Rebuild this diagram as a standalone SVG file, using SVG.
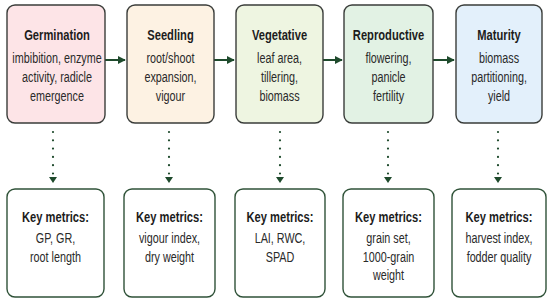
<svg xmlns="http://www.w3.org/2000/svg" width="550" height="304" viewBox="0 0 550 304">
<style>
.stage{stroke:#3a3d3a;stroke-width:1.4}
.metric{fill:#ffffff;stroke:#2f5238;stroke-width:1.4}
text{font-family:"Liberation Sans",Arial,sans-serif;fill:#1c1c1c;text-anchor:middle}
.t{font-size:15.5px;font-weight:bold}
.b{font-size:15px;fill:#2a2a2a}
.arrow{stroke:#1e4a2c;stroke-width:2;fill:none}
.dot{stroke:#1e4a2c;stroke-width:2.2;stroke-linecap:round;stroke-dasharray:0 8.3;fill:none}
.head{fill:#1e4a2c}
</style>
<defs>
<marker id="ah" viewBox="0 0 10 10" refX="9" refY="5" markerWidth="4" markerHeight="5" markerUnits="strokeWidth" orient="auto">
<path d="M0,0 L10,5 L0,10 z" class="head"/>
</marker>
</defs>
<rect width="550" height="304" fill="#ffffff"/>
<g id="connectors">
<line class="arrow" x1="105" y1="60" x2="125" y2="60" marker-end="url(#ah)"/>
<line class="arrow" x1="214" y1="60" x2="234" y2="60" marker-end="url(#ah)"/>
<line class="arrow" x1="323" y1="60" x2="342" y2="60" marker-end="url(#ah)"/>
<line class="arrow" x1="433" y1="60" x2="454" y2="60" marker-end="url(#ah)"/>
<line class="dot" x1="53" y1="132" x2="53" y2="175"/>
<path class="head" d="M49,177 L57,177 L53,183 z"/>
<line class="dot" x1="169" y1="132" x2="169" y2="175"/>
<path class="head" d="M165,177 L173,177 L169,183 z"/>
<line class="dot" x1="280" y1="132" x2="280" y2="175"/>
<path class="head" d="M276,177 L284,177 L280,183 z"/>
<line class="dot" x1="388" y1="132" x2="388" y2="175"/>
<path class="head" d="M384,177 L392,177 L388,183 z"/>
<line class="dot" x1="498" y1="132" x2="498" y2="175"/>
<path class="head" d="M494,177 L502,177 L498,183 z"/>
</g>
<g id="germination">
<rect class="stage" x="7" y="5" width="98" height="118" rx="8" fill="#fde4e7"/>
<g transform="translate(57,0) scale(0.72,1)">
<text class="t" x="0" y="40">Germination</text>
<text class="b" x="0" y="63">imbibition, enzyme</text>
<text class="b" x="0" y="82">activity, radicle</text>
<text class="b" x="0" y="101">emergence</text>
</g>
</g>
<g id="seedling">
<rect class="stage" x="127" y="5" width="87" height="118" rx="8" fill="#fdf2e3"/>
<g transform="translate(170.5,0) scale(0.72,1)">
<text class="t" x="0" y="40">Seedling</text>
<text class="b" x="0" y="63">root/shoot</text>
<text class="b" x="0" y="82">expansion,</text>
<text class="b" x="0" y="101">vigour</text>
</g>
</g>
<g id="vegetative">
<rect class="stage" x="236" y="5" width="87" height="118" rx="8" fill="#eef5e1"/>
<g transform="translate(279.5,0) scale(0.72,1)">
<text class="t" x="0" y="40">Vegetative</text>
<text class="b" x="0" y="63">leaf area,</text>
<text class="b" x="0" y="82">tillering,</text>
<text class="b" x="0" y="101">biomass</text>
</g>
</g>
<g id="reproductive">
<rect class="stage" x="344" y="5" width="89" height="118" rx="8" fill="#e2f2e4"/>
<g transform="translate(388.5,0) scale(0.72,1)">
<text class="t" x="0" y="40">Reproductive</text>
<text class="b" x="0" y="63">flowering,</text>
<text class="b" x="0" y="82">panicle</text>
<text class="b" x="0" y="101">fertility</text>
</g>
</g>
<g id="maturity">
<rect class="stage" x="456" y="5" width="86" height="118" rx="8" fill="#e3f0fb"/>
<g transform="translate(499,0) scale(0.72,1)">
<text class="t" x="0" y="40">Maturity</text>
<text class="b" x="0" y="63">biomass</text>
<text class="b" x="0" y="82">partitioning,</text>
<text class="b" x="0" y="101">yield</text>
</g>
</g>
<g id="metrics-germination">
<rect class="metric" x="7" y="189" width="97" height="108" rx="8"/>
<g transform="translate(55.5,0) scale(0.72,1)">
<text class="t" x="0" y="222">Key metrics:</text>
<text class="b" x="0" y="243">GP, GR,</text>
<text class="b" x="0" y="262">root length</text>
</g>
</g>
<g id="metrics-seedling">
<rect class="metric" x="124" y="189" width="91" height="108" rx="8"/>
<g transform="translate(169.5,0) scale(0.72,1)">
<text class="t" x="0" y="222">Key metrics:</text>
<text class="b" x="0" y="243">vigour index,</text>
<text class="b" x="0" y="262">dry weight</text>
</g>
</g>
<g id="metrics-vegetative">
<rect class="metric" x="235" y="189" width="90" height="108" rx="8"/>
<g transform="translate(280,0) scale(0.72,1)">
<text class="t" x="0" y="222">Key metrics:</text>
<text class="b" x="0" y="243">LAI, RWC,</text>
<text class="b" x="0" y="262">SPAD</text>
</g>
</g>
<g id="metrics-reproductive">
<rect class="metric" x="343" y="189" width="91" height="108" rx="8"/>
<g transform="translate(388.5,0) scale(0.72,1)">
<text class="t" x="0" y="222">Key metrics:</text>
<text class="b" x="0" y="243">grain set,</text>
<text class="b" x="0" y="262">1000-grain</text>
<text class="b" x="0" y="280">weight</text>
</g>
</g>
<g id="metrics-maturity">
<rect class="metric" x="452" y="189" width="94" height="108" rx="8"/>
<g transform="translate(499,0) scale(0.72,1)">
<text class="t" x="0" y="222">Key metrics:</text>
<text class="b" x="0" y="243">harvest index,</text>
<text class="b" x="0" y="262">fodder quality</text>
</g>
</g>
</svg>
